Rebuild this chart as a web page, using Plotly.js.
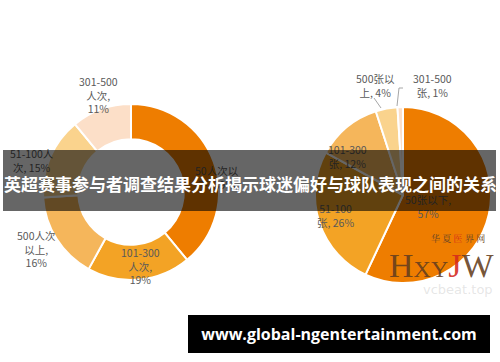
<!DOCTYPE html>
<html>
<head>
<meta charset="utf-8">
<script src="https://cdn.plot.ly/plotly-3.0.1.min.js"></script>
<style>
html,body{margin:0;padding:0;background:#fff;}
#chart{width:500px;height:362px;}
</style>
</head>
<body>
<div id="chart"></div>
<script>
// ---- data ----
const donutLabels = ['50人次以下', '101-300人次', '500人次以上', '51-100人次', '301-500人次'];
const donutValues = [39, 19, 16, 15, 11];
const donutWrapped = ['50人次以<br>下, ', '101-300<br>人次,<br>', '500人次<br>以上,<br>', '51-100人<br>次, ', '301-500<br>人次,<br>'];

const pieLabels = ['50张以下', '51-100张', '101-300张', '500张以上', '301-500张'];
const pieValues = [57, 26, 12, 4, 1];
const pieWrapped = ['50张以下,<br>', '51-100<br>张, ', '101-300<br>张, ', '500张以<br>上, ', '301-500<br>张, '];

const titleText = '英超赛事参与者调查结果分析揭示球迷偏好与球队表现之间的关系';
const urlText = 'www.global-ngentertainment.com';

// ---- styles / positions (pixels) ----
const W = 500, H = 362;
const donutColors = ['#EE7D00', '#F3A325', '#F5B65B', '#FAD38D', '#FCDFC8'];
const pieColors = ['#EE7D00', '#F3A325', '#F5B65B', '#FAD38D', '#FCDFC8'];
const donutLabelPos = [[217, 177], [140, 266], [36, 249], [32, 160], [98, 95]];
const pieLabelPos = [[428, 206], [335, 215], [347, 157], [375, 86], [432, 86]];

const px = (x) => x / W;
const py = (y) => 1 - y / H;

function domainFor(cx, cy, r) {
  return { x: [px(cx - r), px(cx + r)], y: [py(cy + r), py(cy - r)] };
}

const traces = [
  {
    type: 'pie', labels: donutLabels, values: donutValues, hole: 0.6,
    sort: false, direction: 'clockwise', rotation: 0,
    marker: { colors: donutColors, line: { color: '#ffffff', width: 2 } },
    textinfo: 'none', hoverinfo: 'label+percent', showlegend: false,
    domain: domainFor(131, 192, 88)
  },
  {
    type: 'pie', labels: pieLabels, values: pieValues,
    sort: false, direction: 'clockwise', rotation: 0,
    marker: { colors: pieColors, line: { color: '#ffffff', width: 2 } },
    textinfo: 'none', hoverinfo: 'label+percent', showlegend: false,
    domain: domainFor(403, 195, 88)
  }
];

const labelFont = { family: 'Noto Sans CJK SC, sans-serif', size: 10.5, color: '#595959' };
const annotations = [];
donutLabels.forEach((l, i) => {
  annotations.push({
    xref: 'paper', yref: 'paper', x: px(donutLabelPos[i][0]), y: py(donutLabelPos[i][1]),
    xanchor: 'center', yanchor: 'middle', showarrow: false,
    text: donutWrapped[i] + donutValues[i] + '%', font: labelFont, align: 'center'
  });
});
pieLabels.forEach((l, i) => {
  annotations.push({
    xref: 'paper', yref: 'paper', x: px(pieLabelPos[i][0]), y: py(pieLabelPos[i][1]),
    xanchor: 'center', yanchor: 'middle', showarrow: false,
    text: pieWrapped[i] + pieValues[i] + '%', font: labelFont, align: 'center'
  });
});

// watermark
annotations.push({
  xref: 'paper', yref: 'paper', x: px(458), y: py(238), xanchor: 'center', yanchor: 'middle', showarrow: false,
  text: '华 夏 <span style="color:#d42a1c">医</span> 界 网',
  font: { family: 'Noto Serif CJK SC, Noto Sans CJK SC, serif', size: 9, color: '#6a4626' }
});
annotations.push({
  xref: 'paper', yref: 'paper', x: px(441), y: py(265), xanchor: 'center', yanchor: 'middle', showarrow: false,
  text: 'H<span style="font-size:24px">XY</span><span style="color:#d42a1c">J</span>W',
  font: { family: 'Liberation Serif, serif', size: 34, color: 'rgba(100,62,30,0.9)' }
});
annotations.push({
  xref: 'paper', yref: 'paper', x: px(458), y: py(289), xanchor: 'center', yanchor: 'middle', showarrow: false,
  text: 'vcbeat.top',
  font: { family: 'DejaVu Sans, sans-serif', size: 13, color: 'rgba(170,170,170,0.3)' }
});

// title band (background) then title text
annotations.push({
  xref: 'paper', yref: 'paper', x: px(249.5), y: py(180.5), xanchor: 'center', yanchor: 'middle', showarrow: false,
  width: 493, height: 61, bgcolor: 'rgba(0,0,0,0.6)', borderpad: 0, borderwidth: 0,
  text: '&nbsp;', font: { size: 10, color: 'rgba(0,0,0,0)' }
});
annotations.push({
  xref: 'paper', yref: 'paper', x: px(250), y: py(183), xanchor: 'center', yanchor: 'middle', showarrow: false,
  text: '<b>' + titleText + '</b>',
  font: { family: 'Noto Sans CJK SC, sans-serif', size: 17, color: '#ffffff' }
});
// url box
annotations.push({
  xref: 'paper', yref: 'paper', x: px(339), y: py(334), xanchor: 'center', yanchor: 'middle', showarrow: false,
  width: 302, height: 38, bgcolor: '#000000', borderpad: 0, borderwidth: 0,
  text: '<b>' + urlText + '</b>',
  font: { family: 'Open Sans, sans-serif', size: 16, color: '#ffffff' }
});

const lineStyle = { color: '#a6a6a6', width: 1 };
const shapes = [
  { type: 'line', xref: 'paper', yref: 'paper', layer: 'above',
    x0: px(374), y0: py(98), x1: px(381), y1: py(108), line: lineStyle },
  { type: 'path', xref: 'paper', yref: 'paper', layer: 'above',
    path: 'M ' + px(403) + ' ' + py(88) + ' L ' + px(399) + ' ' + py(88) + ' L ' + px(397) + ' ' + py(106),
    line: lineStyle }
];

const layout = {
  width: W, height: H,
  margin: { l: 0, r: 0, t: 0, b: 0 },
  paper_bgcolor: '#ffffff',
  showlegend: false,
  annotations: annotations,
  shapes: shapes
};

Plotly.newPlot('chart', traces, layout, { displayModeBar: false, staticPlot: true });
</script>
</body>
</html>
